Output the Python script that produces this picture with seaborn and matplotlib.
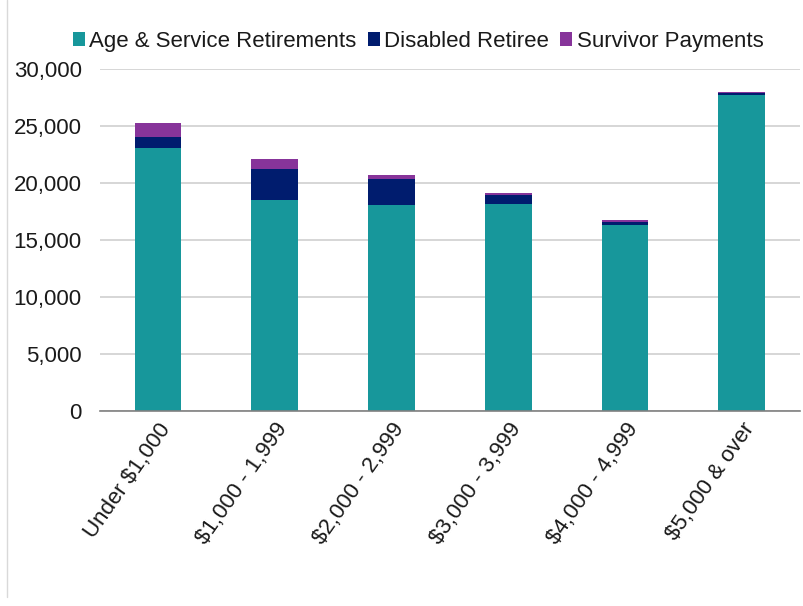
import pandas as pd
import matplotlib.pyplot as plt
import seaborn as sns
from matplotlib.patches import Patch
from matplotlib.lines import Line2D

# Values
categories = ["Under $1,000", "$1,000 - 1,999", "$2,000 - 2,999",
              "$3,000 - 3,999", "$4,000 - 4,999", "$5,000 & over"]
age_service = [23070, 18510, 18070, 18160, 16320, 27750]
disabled = [990, 2690, 2250, 830, 300, 120]
survivor = [1180, 880, 380, 170, 130, 110]

series = ["Age & Service Retirements", "Disabled Retiree", "Survivor Payments"]
colors = ["#17979b", "#001c6e", "#87349a"]

data = pd.DataFrame({
    "Category": categories,
    series[0]: age_service,
    series[1]: disabled,
    series[2]: survivor,
})

sns.set_theme(style="white")
plt.rcParams["font.family"] = ["Liberation Sans", "DejaVu Sans"]

fig = plt.figure(figsize=(8.04, 6.06), dpi=100)
ax = fig.add_axes([0.124, 0.322, 0.871, 0.564])

# stacked bars: draw cumulative totals from the top series down
cum = data[series].cumsum(axis=1)
for s, c in reversed(list(zip(series, colors))):
    sns.barplot(x=data["Category"], y=cum[s], color=c, width=0.4,
                ax=ax, saturation=1, edgecolor="none")

ax.set_ylim(0, 30000)
ax.set_yticks(range(0, 30001, 5000))
ax.set_yticklabels([f"{v:,}" for v in range(0, 30001, 5000)], fontsize=16, color="#1a1a1a")
ax.set_xlabel("")
ax.set_ylabel("")
ax.set_xlim(-0.5, 5.5)
ax.tick_params(axis="x", length=0, pad=6)
ax.tick_params(axis="y", length=0, pad=13)
plt.setp(ax.get_xticklabels(), rotation=55, ha="right", rotation_mode="anchor",
         fontsize=16, color="#1a1a1a")

ax.grid(axis="y", color="#d0d0d0", linewidth=1.2)
ax.set_axisbelow(True)
for side in ["top", "right", "left"]:
    ax.spines[side].set_visible(False)
ax.spines["bottom"].set_color("#808080")
ax.spines["bottom"].set_linewidth(1.2)

handles = [Patch(facecolor=c, edgecolor="none") for c in colors]
fig.legend(handles, series, loc="center", bbox_to_anchor=(0.52, 0.932),
           ncol=3, frameon=False, fontsize=16, handlelength=0.55, handleheight=0.55,
           handletextpad=0.2, columnspacing=0.5, labelcolor="#1a1a1a")

# thin chart-area border on the left edge
fig.add_artist(Line2D([0.009, 0.009], [0.015, 1.0], color="#d9d9d9", linewidth=1))

fig.savefig("out.png", dpi=100)
